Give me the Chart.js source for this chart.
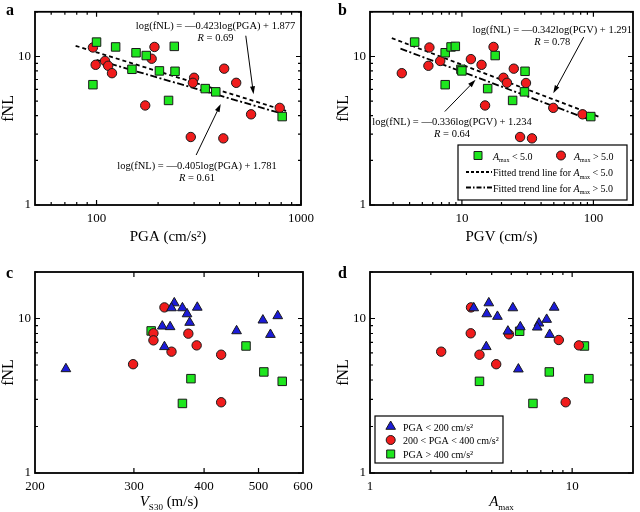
<!DOCTYPE html>
<html>
<head>
<meta charset="utf-8">
<script src="https://cdn.jsdelivr.net/npm/chart.js@4.4.0/dist/chart.umd.min.js"></script>
<style>
  body { margin: 0; background: #fff; }
  #wrap { position: relative; width: 640px; height: 512px; }
  canvas { position: absolute; }
</style>
</head>
<body>
<div id="wrap">
  <canvas id="pa" width="320" height="256" style="left:0;top:0"></canvas>
  <canvas id="pb" width="320" height="256" style="left:320px;top:0"></canvas>
  <canvas id="pc" width="320" height="256" style="left:0;top:256px"></canvas>
  <canvas id="pd" width="320" height="256" style="left:320px;top:256px"></canvas>
</div>
<script>
// ---- panel a: fNL vs PGA ----
const aLowPga = [96, 100, 124, 156, 175, 149, 203, 242, 240, 225, 340, 383, 809];
const aLowFnl = [6.46, 12.5, 11.6, 10.6, 10.15, 8.2, 8.0, 7.95, 11.7, 5.06, 6.08, 5.78, 3.94];
const aHighPga = [96, 99, 110, 114, 119, 192, 186, 173, 300, 296, 421, 482, 289, 417, 570, 787];
const aHighFnl = [11.5, 8.79, 9.33, 8.66, 7.72, 11.6, 9.66, 4.68, 7.19, 6.65, 8.28, 6.65, 2.87, 2.81, 4.08, 4.51];
const aFitLowX = [79, 845];
const aFitLowY = [11.8, 4.3];
const aFitHighX = [100, 845];
const aFitHighY = [9.5, 4.05];

// ---- panel b: fNL vs PGV ----
const bLowPgv = [4.37, 7.46, 8.27, 8.91, 7.46, 9.83, 10, 15.7, 17.9, 24.3, 30.2, 29.9, 95.5];
const bLowFnl = [12.5, 10.6, 11.6, 11.7, 6.46, 8.2, 8.0, 6.08, 10.15, 5.06, 7.95, 5.78, 3.94];
const bHighPgv = [3.49, 5.66, 5.56, 6.84, 11.7, 14.1, 17.4, 15.0, 20.7, 22.0, 24.8, 30.7, 27.7, 34.1, 49.5, 82.7];
const bHighFnl = [7.72, 11.5, 8.66, 9.33, 9.6, 8.79, 11.6, 4.68, 7.19, 6.65, 8.28, 6.63, 2.87, 2.81, 4.51, 4.08];
const bFitLowX = [2.93, 111];
const bFitLowY = [13.3, 3.92];
const bFitHighX = [3.41, 97.7];
const bFitHighY = [11.3, 3.7];

// ---- panel c: fNL vs Vs30 ----
const cBlueVs = [227, 354, 350, 366, 389, 373, 377, 337, 348, 340, 457, 509, 541, 525];
const cBlueFnl = [4.72, 12.6, 11.7, 11.7, 11.8, 10.7, 9.42, 8.91, 8.83, 6.56, 8.31, 9.75, 10.4, 7.87];
const cRedVs = [340, 325, 325, 350, 375, 388, 299, 429, 429];
const cRedFnl = [11.8, 8.02, 7.22, 6.1, 7.98, 6.7, 5.06, 5.83, 2.87];
const cGreenVs = [322, 475, 379, 366, 511, 551];
const cGreenFnl = [8.31, 6.64, 4.08, 2.82, 4.51, 3.92];

// ---- panel d: fNL vs Amax ----
const dBlueA = [3.26, 3.87, 3.78, 4.27, 5.09, 8.15, 7.48, 6.85, 6.72, 5.54, 4.81, 7.74, 3.76, 5.42];
const dBlueFnl = [11.7, 12.6, 10.7, 10.3, 11.7, 11.8, 9.85, 9.32, 8.78, 8.82, 8.27, 7.87, 6.56, 4.70];
const dRedA = [3.16, 3.15, 4.87, 8.59, 10.8, 2.25, 3.48, 4.21, 9.29];
const dRedFnl = [11.8, 8.02, 7.91, 7.26, 6.7, 6.1, 5.83, 5.06, 2.87];
const dGreenA = [5.5, 11.5, 12.1, 7.71, 3.48, 6.4];
const dGreenFnl = [8.27, 6.64, 4.08, 4.51, 3.92, 2.82];

// ---- ticks ----
const fnlMajor = [1, 10];
const fnlMinor = [2, 3, 4, 5, 6, 7, 8, 9, 20];
const pgaMajor = [100, 1000];
const pgaMinor = [60, 70, 80, 90, 200, 300, 400, 500, 600, 700, 800, 900];
const pgvMajor = [10, 100];
const pgvMinor = [3, 4, 5, 6, 7, 8, 9, 20, 30, 40, 50, 60, 70, 80, 90];
const vsLabels = [200, 300, 400, 500, 600];
const vsMajor = [300, 400, 500];
const amaxLabels = [1, 10];
const amaxMinor = [2, 3, 4, 5, 6, 7, 8, 9];

const RED = '#f01c1c', GREEN = '#1ee61e', BLUE = '#1c1cd8', EDGE = '#1a1a1a';
const FONT = '"Liberation Serif", "Times New Roman", serif';

const pts = (xs, ys) => xs.map((x, i) => ({ x, y: ys[i] }));

function scatterSet(xs, ys, color, style) {
    const r = style === 'rect' ? 6 : style === 'triangle' ? 5.6 : 4.7;
    return {
        data: pts(xs, ys),
        pointStyle: style,
        pointRadius: r,
        pointBackgroundColor: color,
        pointBorderColor: EDGE,
        pointBorderWidth: 1,
        showLine: false,
    };
}

function fitSet(xs, ys, dash) {
    return {
        type: 'line',
        data: pts(xs, ys),
        borderColor: '#000',
        borderWidth: 1.8,
        borderDash: dash,
        pointRadius: 0,
        fill: false,
        order: 5,
    };
}

// text made of runs: {t, i: italic, s: subscript}
function runs(ctx, items, x, y, size, align) {
    const fontOf = (it) => (it.i ? 'italic ' : '') + (it.s ? Math.round(size * 0.6) : size) + 'px ' + FONT;
    let w = 0;
    items.forEach((it) => { ctx.font = fontOf(it); w += ctx.measureText(it.t).width; });
    let cx = align === 'center' ? x - w / 2 : x;
    ctx.textAlign = 'left';
    ctx.textBaseline = 'alphabetic';
    items.forEach((it) => {
        ctx.font = fontOf(it);
        ctx.fillText(it.t, cx, y + (it.s ? size * 0.28 : 0));
        cx += ctx.measureText(it.t).width;
    });
}

function marker(ctx, style, color, x, y) {
    ctx.save();
    ctx.fillStyle = color;
    ctx.strokeStyle = EDGE;
    ctx.lineWidth = 1;
    ctx.beginPath();
    if (style === 'rect') ctx.rect(x - 4, y - 4, 8, 8);
    else if (style === 'circle') ctx.arc(x, y, 4.5, 0, Math.PI * 2);
    else { ctx.moveTo(x, y - 5.5); ctx.lineTo(x + 4.8, y + 2.8); ctx.lineTo(x - 4.8, y + 2.8); ctx.closePath(); }
    ctx.fill();
    ctx.stroke();
    ctx.restore();
}

const framePlugin = {
    id: 'frame',
    afterDraw(chart, args, o) {
        const { ctx, chartArea: ca } = chart;
        const xs = chart.scales.x, ys = chart.scales.y;
        ctx.save();
        ctx.strokeStyle = '#000';
        ctx.fillStyle = '#000';
        ctx.lineWidth = 1.2;
        const tick = (vals, len, horiz) => {
            vals.forEach((v) => {
                ctx.beginPath();
                if (horiz) {
                    const p = xs.getPixelForValue(v);
                    ctx.moveTo(p, ca.bottom); ctx.lineTo(p, ca.bottom - len);
                    ctx.moveTo(p, ca.top); ctx.lineTo(p, ca.top + len);
                } else {
                    const p = ys.getPixelForValue(v);
                    ctx.moveTo(ca.left, p); ctx.lineTo(ca.left + len, p);
                    ctx.moveTo(ca.right, p); ctx.lineTo(ca.right - len, p);
                }
                ctx.stroke();
            });
        };
        tick(o.xMajor || [], 5, true);
        tick(o.xMinor || [], 3, true);
        tick(fnlMajor, 5, false);
        tick(fnlMinor, 3, false);
        ctx.lineWidth = 1.8;
        ctx.strokeRect(ca.left, ca.top, ca.right - ca.left, ca.bottom - ca.top);

        // panel letter
        ctx.font = 'bold 16px ' + FONT;
        ctx.textAlign = 'left';
        ctx.textBaseline = 'alphabetic';
        ctx.fillText(o.letter, o.letterX, o.letterY);

        // axis titles
        runs(ctx, o.xTitle, (ca.left + ca.right) / 2, ca.bottom + o.xTitleDy, 15, 'center');
        ctx.save();
        ctx.translate(ca.left - 26, (ca.top + ca.bottom) / 2);
        ctx.rotate(-Math.PI / 2);
        ctx.font = '16px ' + FONT;
        ctx.textAlign = 'center';
        ctx.textBaseline = 'middle';
        ctx.fillText('fNL', 0, 0);
        ctx.restore();

        // equations and arrows
        (o.notes || []).forEach((n) => {
            const x = xs.getPixelForValue(n.x), y = ys.getPixelForValue(n.y);
            n.lines.forEach((ln, i) => runs(ctx, ln, x, y + i * 12.5, 10.5, 'center'));
        });
        (o.arrows || []).forEach((a) => {
            const x1 = xs.getPixelForValue(a.x1), y1 = ys.getPixelForValue(a.y1);
            const x2 = xs.getPixelForValue(a.x2), y2 = ys.getPixelForValue(a.y2);
            const ang = Math.atan2(y2 - y1, x2 - x1);
            ctx.lineWidth = 1;
            ctx.beginPath();
            ctx.moveTo(x1, y1);
            ctx.lineTo(x2 - 6 * Math.cos(ang), y2 - 6 * Math.sin(ang));
            ctx.stroke();
            ctx.beginPath();
            ctx.moveTo(x2, y2);
            ctx.lineTo(x2 - 8 * Math.cos(ang) + 2.5 * Math.sin(ang), y2 - 8 * Math.sin(ang) - 2.5 * Math.cos(ang));
            ctx.lineTo(x2 - 8 * Math.cos(ang) - 2.5 * Math.sin(ang), y2 - 8 * Math.sin(ang) + 2.5 * Math.cos(ang));
            ctx.closePath();
            ctx.fill();
        });

        // legend box
        const lg = o.legend;
        if (lg) {
            const bx = lg.left != null ? ca.left + lg.left : ca.right - lg.right - lg.w;
            const by = ca.bottom - lg.bottom - lg.h;
            ctx.fillStyle = '#fff';
            ctx.fillRect(bx, by, lg.w, lg.h);
            ctx.lineWidth = 1.2;
            ctx.strokeRect(bx, by, lg.w, lg.h);
            ctx.fillStyle = '#000';
            lg.items.forEach((it) => {
                const y = by + it.dy;
                if (it.dash) {
                    ctx.save();
                    ctx.lineWidth = 1.8;
                    ctx.setLineDash(it.dash);
                    ctx.beginPath();
                    ctx.moveTo(bx + it.mx, y);
                    ctx.lineTo(bx + it.mx2, y);
                    ctx.stroke();
                    ctx.restore();
                } else {
                    marker(ctx, it.style, it.color, bx + it.mx, y);
                }
                runs(ctx, it.text, bx + it.tx, y + 4, lg.size, 'left');
            });
        }
        ctx.restore();
    },
};

function panel(id, p) {
    const tickFont = { family: FONT, size: 13 };
    return new Chart(document.getElementById(id), {
        type: 'scatter',
        data: { datasets: p.datasets },
        options: {
            responsive: false,
            animation: false,
            events: [],
            layout: { padding: { left: 0, right: p.right, top: p.top, bottom: 0 } },
            plugins: { legend: { display: false }, tooltip: { enabled: false }, frame: p.frame },
            scales: {
                x: {
                    type: 'logarithmic',
                    min: p.xMin,
                    max: p.xMax,
                    grid: { display: false, drawTicks: false },
                    border: { display: false },
                    afterBuildTicks: (s) => { s.ticks = p.xLabels.map((v) => ({ value: v })); },
                    afterFit: (s) => { s.height = p.xh; },
                    ticks: { autoSkip: false, maxRotation: 0, padding: 6, color: '#000', font: tickFont, callback: (v) => String(v) },
                },
                y: {
                    type: 'logarithmic',
                    min: 1,
                    max: 20,
                    grid: { display: false, drawTicks: false },
                    border: { display: false },
                    afterBuildTicks: (s) => { s.ticks = fnlMajor.map((v) => ({ value: v })); },
                    afterFit: (s) => { s.width = p.yw; },
                    ticks: { autoSkip: false, padding: 4, color: '#000', font: tickFont, callback: (v) => String(v) },
                },
            },
        },
        plugins: [framePlugin],
    });
}

const eq = (s) => [{ t: s }];
const rr = (v) => [{ t: 'R', i: true }, { t: ' = ' + v }];
const amax = (rest) => [{ t: 'A', i: true }, { t: 'max', s: true }, { t: rest }];

panel('pa', {
    xMin: 50, xMax: 1000, xLabels: pgaMajor, yw: 35, xh: 51, top: 4, right: 17,
    datasets: [
        scatterSet(aLowPga, aLowFnl, GREEN, 'rect'),
        scatterSet(aHighPga, aHighFnl, RED, 'circle'),
        fitSet(aFitLowX, aFitLowY, [4, 3]),
        fitSet(aFitHighX, aFitHighY, [7, 2.5, 2, 2.5]),
    ],
    frame: {
        letter: 'a', letterX: 6, letterY: 15,
        xMajor: pgaMajor, xMinor: pgaMinor,
        xTitle: eq('PGA (cm/s\u00B2)'),
        xTitleDy: 36,
        notes: [
            { x: 382, y: 15.4, lines: [eq('log(fNL) = \u20140.423log(PGA) + 1.877'), rr('0.69')] },
            { x: 310, y: 1.75, lines: [eq('log(fNL) = \u20140.405log(PGA) + 1.781'), rr('0.61')] },
        ],
        arrows: [
            { x1: 537, y1: 13.8, x2: 586, y2: 5.56 },
            { x1: 307, y1: 2.17, x2: 405, y2: 4.79 },
        ],
    },
});

panel('pb', {
    xMin: 2, xMax: 200, xLabels: pgvMajor, yw: 50, xh: 51, top: 4, right: 3,
    datasets: [
        scatterSet(bLowPgv, bLowFnl, GREEN, 'rect'),
        scatterSet(bHighPgv, bHighFnl, RED, 'circle'),
        fitSet(bFitLowX, bFitLowY, [4, 3]),
        fitSet(bFitHighX, bFitHighY, [7, 2.5, 2, 2.5]),
    ],
    frame: {
        letter: 'b', letterX: 18, letterY: 15,
        xMajor: pgvMajor, xMinor: pgvMinor,
        xTitle: eq('PGV (cm/s)'),
        xTitleDy: 36,
        notes: [
            { x: 48.7, y: 14.5, lines: [eq('log(fNL) = \u20140.342log(PGV) + 1.291'), rr('0.78')] },
            { x: 8.41, y: 3.47, lines: [eq('log(fNL) = \u20140.336log(PGV) + 1.234'), rr('0.64')] },
        ],
        arrows: [
            { x1: 84.3, y1: 13.5, x2: 49.5, y2: 5.65 },
            { x1: 7.41, y1: 4.26, x2: 12.7, y2: 6.96 },
        ],
        legend: {
            right: 6, bottom: 5, w: 169, h: 55, size: 10,
            items: [
                { style: 'rect', color: GREEN, mx: 20, tx: 35, dy: 10.5, text: amax(' < 5.0') },
                { style: 'circle', color: RED, mx: 103, tx: 116, dy: 10.5, text: amax(' > 5.0') },
                { dash: [3, 2], mx: 8, mx2: 34, tx: 35, dy: 27, text: [{ t: 'Fitted trend line for ' }].concat(amax(' < 5.0')) },
                { dash: [5, 2, 1.5, 2], mx: 8, mx2: 34, tx: 35, dy: 42.5, text: [{ t: 'Fitted trend line for ' }].concat(amax(' > 5.0')) },
            ],
        },
    },
});

panel('pc', {
    xMin: 200, xMax: 600, xLabels: vsLabels, yw: 35, xh: 39, top: 16, right: 17,
    datasets: [
        scatterSet(cBlueVs, cBlueFnl, BLUE, 'triangle'),
        scatterSet(cRedVs, cRedFnl, RED, 'circle'),
        scatterSet(cGreenVs, cGreenFnl, GREEN, 'rect'),
    ],
    frame: {
        letter: 'c', letterX: 6, letterY: 22,
        xMajor: vsMajor, xMinor: [],
        xTitle: [{ t: 'V', i: true }, { t: 'S30', s: true }, { t: ' (m/s)' }],
        xTitleDy: 33,
    },
});

panel('pd', {
    xMin: 1, xMax: 20, xLabels: amaxLabels, yw: 50, xh: 39, top: 16, right: 3,
    datasets: [
        scatterSet(dBlueA, dBlueFnl, BLUE, 'triangle'),
        scatterSet(dRedA, dRedFnl, RED, 'circle'),
        scatterSet(dGreenA, dGreenFnl, GREEN, 'rect'),
    ],
    frame: {
        letter: 'd', letterX: 18, letterY: 22,
        xMajor: [10], xMinor: amaxMinor,
        xTitle: amax(''),
        xTitleDy: 33,
        legend: {
            left: 5, bottom: 10, w: 128, h: 47, size: 10,
            items: [
                { style: 'triangle', color: BLUE, mx: 15.7, tx: 28, dy: 10.5, text: eq('PGA < 200 cm/s\u00B2') },
                { style: 'circle', color: RED, mx: 15.7, tx: 28, dy: 24, text: eq('200 < PGA < 400 cm/s\u00B2') },
                { style: 'rect', color: GREEN, mx: 15.7, tx: 28, dy: 38, text: eq('PGA > 400 cm/s\u00B2') },
            ],
        },
    },
});
</script>
</body>
</html>
